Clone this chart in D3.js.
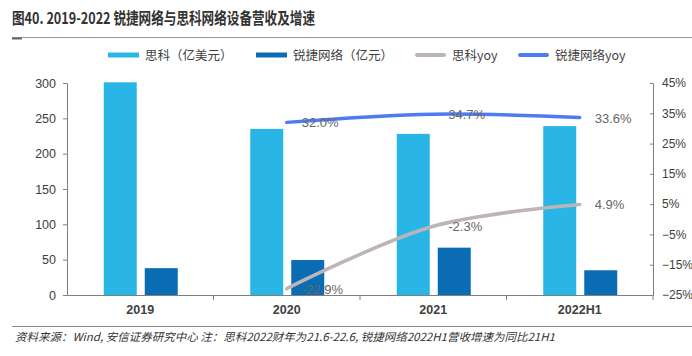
<!DOCTYPE html>
<html><head><meta charset="utf-8">
<script src="https://cdn.jsdelivr.net/npm/d3@7/dist/d3.min.js"></script>
<style>
body{margin:0;background:#fff;}
svg text{font-family:"Liberation Sans",Arial,"Noto Sans CJK SC",sans-serif;}
.cjk{font-family:"Noto Sans CJK SC","Liberation Sans",sans-serif;}
</style></head>
<body>
<script>
const categories = ["2019","2020","2021","2022H1"];
const ciscoRevenue = [301, 235, 228, 239];
const ruijieRevenue = [38, 49.5, 67, 35];
const yoyCategories = ["2020","2021","2022H1"];
const ciscoYoy = [-22.9, -2.3, 4.9];
const ruijieYoy = [32.0, 34.7, 33.6];
const leftTicks = [0,50,100,150,200,250,300];
const rightTicks = [-25,-15,-5,5,15,25,35,45];
const legendLabels = ["思科（亿美元）","锐捷网络（亿元）","思科yoy","锐捷网络yoy"];
const title = "图40. 2019-2022 锐捷网络与思科网络设备营收及增速";
const footer = "资料来源：Wind, 安信证券研究中心 注：思科2022财年为21.6-22.6, 锐捷网络2022H1营收增速为同比21H1";

const colors = {cisco:"#29B6E6", ruijie:"#0A6DB3", ciscoYoy:"#BDB5B5", ruijieYoy:"#4F7BF2"};
const W=692,H=356;
const svg=d3.select("body").append("svg").attr("width",W).attr("height",H);

// Title
svg.append("text").attr("class","cjk").attr("x",12).attr("y",24).attr("font-size",16).attr("font-weight","bold").attr("fill","#333").attr("textLength",303).attr("lengthAdjust","spacingAndGlyphs").text(title);
svg.append("line").attr("x1",12).attr("x2",692).attr("y1",37.5).attr("y2",37.5).attr("stroke","#9a9a9a").attr("stroke-width",1);
svg.append("line").attr("x1",12).attr("x2",22).attr("y1",38.5).attr("y2",38.5).attr("stroke","#666").attr("stroke-width",2);

const L=67,R=653,T=83,B=295;
const x=d3.scaleBand().domain(categories).range([L,R]);
const yL=d3.scaleLinear().domain([0,300]).range([B,T]);
const yR=d3.scaleLinear().domain([-25,45]).range([B,T]);

// bars
const bw=33, gap=8;
const g=svg.append("g");
g.selectAll(".c").data(categories).enter().append("rect")
 .attr("x",d=>x(d)+x.bandwidth()/2-bw-gap/2+0.5).attr("width",bw)
 .attr("y",(d,i)=>yL(ciscoRevenue[i])).attr("height",(d,i)=>B-yL(ciscoRevenue[i]))
 .attr("fill",colors.cisco);
g.selectAll(".r").data(categories).enter().append("rect")
 .attr("x",d=>x(d)+x.bandwidth()/2+gap/2+0.5).attr("width",bw)
 .attr("y",(d,i)=>yL(ruijieRevenue[i])).attr("height",(d,i)=>B-yL(ruijieRevenue[i]))
 .attr("fill",colors.ruijie);

// axes
const axisColor="#7f7f7f";
const la=svg.append("g").attr("transform",`translate(${L},0)`).call(d3.axisLeft(yL).tickValues(leftTicks).tickSize(4).tickPadding(7));
const ra=svg.append("g").attr("transform",`translate(${R},0)`).call(d3.axisRight(yR).tickValues(rightTicks).tickSize(0).tickPadding(9).tickFormat(d=>(d<0?"\u2212"+Math.abs(d):d)+"%"));
ra.selectAll(".tick").append("line").attr("x1",-3).attr("x2",0).attr("stroke",axisColor);
const xa=svg.append("g").attr("transform",`translate(0,${B})`).call(d3.axisBottom(x).tickSize(0).tickPadding(10));
[la,ra,xa].forEach(a=>{a.select(".domain").attr("stroke",axisColor);a.selectAll("line").attr("stroke",axisColor);a.selectAll("text").attr("fill","#404040").attr("font-size",12.5);});
ra.selectAll("text").attr("font-size",12);
xa.selectAll("text").attr("font-weight","bold").attr("font-size",12.5);
// x boundary ticks
svg.append("g").selectAll("line").data(categories.slice(1).concat(["__end"])).enter().append("line")
 .attr("x1",d=>d==="__end"?R:x(d)).attr("x2",d=>d==="__end"?R:x(d)).attr("y1",B).attr("y2",B+5).attr("stroke",axisColor);

// lines
const lineGen=(vals)=>d3.line().x((d,i)=>x(yoyCategories[i])+x.bandwidth()/2).y(d=>yR(d)).curve(d3.curveCatmullRom)(vals);
svg.append("path").attr("d",lineGen(ciscoYoy)).attr("fill","none").attr("stroke",colors.ciscoYoy).attr("stroke-width",3.5).attr("stroke-linecap","round");
svg.append("path").attr("d",lineGen(ruijieYoy)).attr("fill","none").attr("stroke",colors.ruijieYoy).attr("stroke-width",3.5).attr("stroke-linecap","round");

// labels
function labels(vals){
 svg.append("g").selectAll("text").data(vals).enter().append("text")
  .attr("x",(d,i)=>x(yoyCategories[i])+x.bandwidth()/2+15).attr("y",d=>yR(d)+5)
  .attr("font-size",13).attr("fill","#666").text(d=>d.toFixed(1)+"%");
}
labels(ruijieYoy); labels(ciscoYoy);

// legend
const leg=[{x:108,c:colors.cisco,t:legendLabels[0],h:5},{x:256,c:colors.ruijie,t:legendLabels[1],h:5},{x:415,c:colors.ciscoYoy,t:legendLabels[2],h:4},{x:518,c:colors.ruijieYoy,t:legendLabels[3],h:4}];
const lg=svg.append("g");
leg.forEach(l=>{
 lg.append("rect").attr("x",l.x).attr("y",55-l.h/2).attr("width",31).attr("height",l.h).attr("rx",l.h===4?2:0).attr("fill",l.c);
 lg.append("text").attr("class","cjk").attr("x",l.x+37).attr("y",59.5).attr("font-size",12.5).attr("fill","#404040").text(l.t);
});

// footer
svg.append("line").attr("x1",12).attr("x2",692).attr("y1",326.5).attr("y2",326.5).attr("stroke","#888").attr("stroke-width",1);
svg.append("text").attr("class","cjk").attr("x",15).attr("y",341).attr("font-size",11).attr("font-style","italic").attr("fill","#333").attr("textLength",540).attr("lengthAdjust","spacingAndGlyphs").text(footer);
</script>
</body></html>
